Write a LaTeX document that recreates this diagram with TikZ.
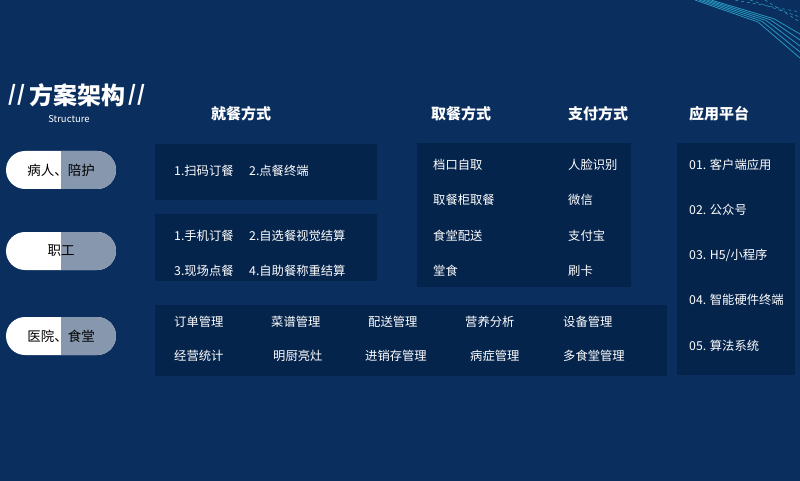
\documentclass[tikz,border=0pt]{standalone}
\usepackage{fontspec}
\setmainfont{Noto Sans CJK SC}
\usetikzlibrary{shapes.misc}
\definecolor{bgblue}{RGB}{10,46,94}
\definecolor{panelblue}{RGB}{5,36,76}
\definecolor{pillgray}{RGB}{134,151,174}
\definecolor{linecyan}{RGB}{40,150,190}
\begin{document}
\begin{tikzpicture}[
	x=1pt, y=-1pt,
	panel/.style={
		fill=panelblue,
	},
	head/.style={
		text=white,
		font=\bfseries\fontsize{15}{17}\selectfont,
	},
	item/.style={
		text=white,
		anchor=west,
		inner sep=0pt,
		font=\fontsize{12.3}{14}\selectfont,
	},
	pill/.style={% half white, half gray
		rounded rectangle,
		fill=white,
		minimum width=110pt,
		minimum height=38pt,
		inner sep=0pt,
		font=\fontsize{13.5}{15}\selectfont,
		path picture={\fill[pillgray] (path picture bounding box.north) rectangle (path picture bounding box.south east);},
	},
	]
	% background
	\fill[bgblue] (0,0) rectangle (800,481);
	\useasboundingbox (0,0) rectangle (800,481);
	\foreach \d in {0,4,8,12,16}
		\draw[linecyan, line width=0.8pt] (695+\d,0) -- (758+\d,22-\d*0.2) -- (800,58-\d*1.5);
	\foreach \d in {0,5,10}
		\draw[linecyan, dashed, line width=0.6pt] (735+\d*3,0) -- (800,12+\d);
	
	% title
	\node[text=white, font=\bfseries\itshape\fontsize{21}{23}\selectfont] (sl1) at (17,95) {//};
	\node[text=white, font=\bfseries\fontsize{24}{26}\selectfont] (title) at (77,95) {方案架构};
	\node[text=white, font=\bfseries\itshape\fontsize{21}{23}\selectfont] (sl2) at (137,95) {//};
	\node[text=white, font=\fontsize{9.5}{11}\selectfont] (sub) at (69,119) {Structure};
	
	% headers
	\node[head] (h1) at (241,114) {就餐方式};
	\node[head] (h2) at (461,114) {取餐方式};
	\node[head] (h3) at (598,114) {支付方式};
	\node[head] (h4) at (719,114) {应用平台};
	
	% roles
	\node[pill] (r1) at (61,170) {病人、陪护};
	\node[pill] (r2) at (61,251) {职工};
	\node[pill] (r3) at (61,336) {医院、食堂};
	
	% panels
	\fill[panel] (155,144) rectangle (377,200);
	\fill[panel] (155,214) rectangle (377,281);
	\fill[panel] (417,143) rectangle (631,287);
	\fill[panel] (155,305) rectangle (667,376);
	\fill[panel] (677,143) rectangle (795,375);
	
	% dining
	\node[item] (d1) at (174,171) {1.扫码订餐};
	\node[item] (d2) at (249,171) {2.点餐终端};
	\node[item] (d3) at (174,236) {1.手机订餐};
	\node[item] (d4) at (249,236) {2.自选餐视觉结算};
	\node[item] (d5) at (174,271) {3.现场点餐};
	\node[item] (d6) at (249,271) {4.自助餐称重结算};
	
	% pickup
	\node[item] (t1) at (433,165) {档口自取};
	\node[item] (t2) at (433,200) {取餐柜取餐};
	\node[item] (t3) at (433,236) {食堂配送};
	\node[item] (t4) at (433,271) {堂食};
	
	% payment
	\node[item] (z1) at (568,165) {人脸识别};
	\node[item] (z2) at (568,200) {微信};
	\node[item] (z3) at (568,236) {支付宝};
	\node[item] (z4) at (568,271) {刷卡};
	
	% management
	\node[item] (m1) at (174,322) {订单管理};
	\node[item] (m2) at (271,322) {菜谱管理};
	\node[item] (m3) at (368,322) {配送管理};
	\node[item] (m4) at (465,322) {营养分析};
	\node[item] (m5) at (563,322) {设备管理};
	\node[item] (m6) at (174,356) {经营统计};
	\node[item] (m7) at (273,356) {明厨亮灶};
	\node[item] (m8) at (365,356) {进销存管理};
	\node[item] (m9) at (470,356) {病症管理};
	\node[item] (m10) at (563,356) {多食堂管理};
	
	% platform
	\node[item] (a1) at (689,165) {01. 客户端应用};
	\node[item] (a2) at (689,210) {02. 公众号};
	\node[item] (a3) at (689,255) {03. H5/小程序};
	\node[item] (a4) at (689,300) {04. 智能硬件终端};
	\node[item] (a5) at (689,346) {05. 算法系统};
\end{tikzpicture}
\end{document}
